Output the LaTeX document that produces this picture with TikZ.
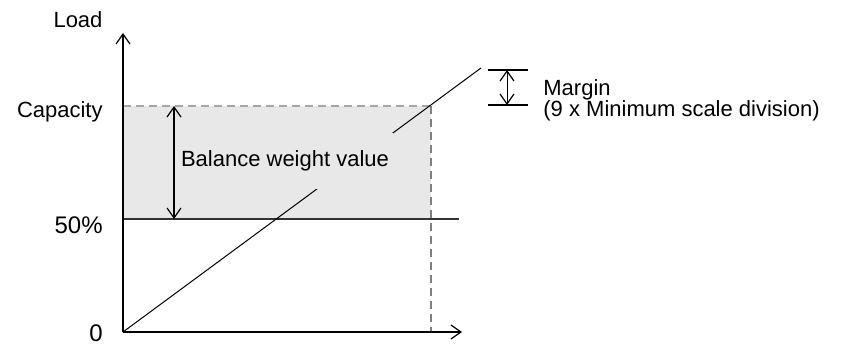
\documentclass[tikz,border=0pt]{standalone}
\usepackage{fontspec}
\setmainfont{Liberation Sans}
\usetikzlibrary{arrows.meta}

\begin{document}
\begin{tikzpicture}[x=0.5pt, y=-0.5pt, >={Straight Barb[length=5pt,width=7pt,line width=0.6pt]}, every node/.style={font=\fontsize{11}{13}\selectfont}]
  \tikzstyle{axis}=[line width=1pt, ->]
  \tikzstyle{guide}=[gray, line width=0.8pt, dash pattern=on 4pt off 2.5pt]
  \tikzstyle{lbl}=[anchor=east, inner sep=0pt]
  \useasboundingbox (0,0) rectangle (851,347);
  % points of the chart
  \coordinate (O) at (123,332);
  \coordinate (ytip) at (123,33);
  \coordinate (xtip) at (462,332);
  \coordinate (capL) at (123,106);
  \coordinate (capR) at (431,106);
  \coordinate (capB) at (431,332);
  \coordinate (halfL) at (123,219);
  \coordinate (halfR) at (459,219);
  \coordinate (diagEnd) at (481,68);
  \coordinate (balTop) at (174,106);
  \coordinate (balBot) at (174,219);
  % band between 50% and capacity
  \fill[gray!18] (capL) rectangle (capR |- halfL);
  \draw[guide, gray!70] (capL) -- (capR);
  \draw[guide] (capR) -- (capB);
  \draw[line width=0.8pt, black!80] (halfL) -- (halfR);
  \draw[line width=0.5pt] (O) -- (diagEnd);
  \node[fill=gray!18, inner xsep=2pt, inner ysep=9pt] (balance) at (285,161) {Balance weight value};
  \draw[<->, line width=0.7pt] (balTop) -- (balBot);
  % axes
  \draw[axis] (O) -- (ytip);
  \draw[axis] (O) -- (xtip);
  \node[inner sep=0pt] (load) at (78,20) {Load};
  \node[lbl] (capacity) at (103,112) {Capacity};
  \node[lbl, font=\fontsize{12}{14}\selectfont] (half) at (103,225) {50\%};
  \node[lbl, font=\fontsize{12}{14}\selectfont] (zero) at (103,333) {0};
  % margin
  \coordinate (mTopL) at (488,70);
  \coordinate (mTopR) at (528,70);
  \coordinate (mBotL) at (488,105);
  \coordinate (mBotR) at (528,105);
  \draw[line width=0.8pt] (mTopL) -- (mTopR);
  \draw[line width=0.8pt] (mBotL) -- (mBotR);
  \draw[<->, line width=0.5pt] (507,70) -- (507,105);
  \node[anchor=west, align=left, inner sep=0pt, font=\fontsize{11}{10.5}\selectfont] (margin) at (543,100) {Margin\\(9 x Minimum scale division)};
\end{tikzpicture}
\end{document}
